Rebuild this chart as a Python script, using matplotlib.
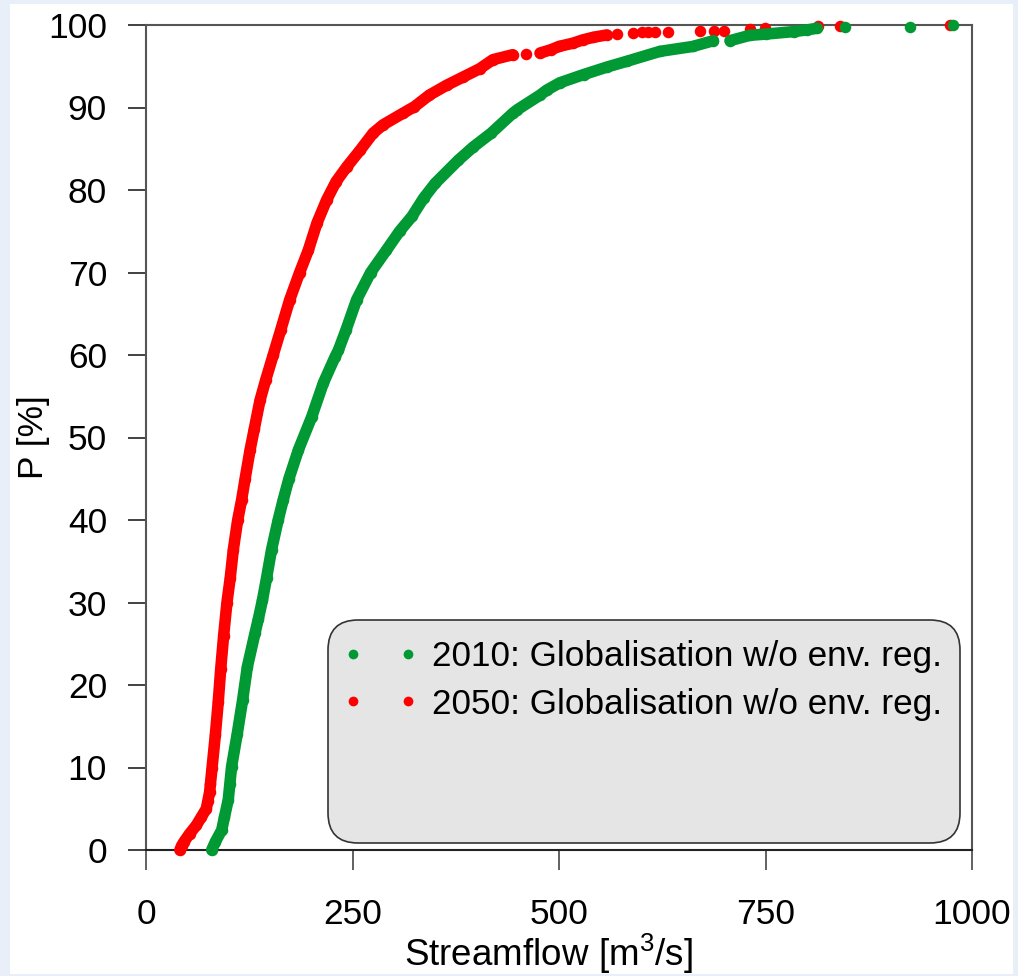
import matplotlib
matplotlib.use("Agg")
import matplotlib.pyplot as plt
from matplotlib.patches import FancyBboxPatch, Rectangle
from matplotlib.lines import Line2D
from matplotlib.transforms import IdentityTransform
import numpy as np

plt.rcParams['font.family'] = ['Liberation Sans', 'DejaVu Sans']
plt.rcParams['mathtext.fontset'] = 'custom'
plt.rcParams['mathtext.rm'] = 'Liberation Sans'
plt.rcParams['mathtext.it'] = 'Liberation Sans:italic'

# ---- data ----
# 2050 series: continuous body (percent, streamflow)
p_2050_body = [0, 0.5, 1, 2, 3, 4, 5, 6, 7, 8, 10, 14, 18, 22, 26, 30, 33, 36.4, 40, 42.4,
               45, 48.5, 51, 54.5, 57, 60, 63, 66.7, 70, 72.7, 76, 78.8, 81, 82.8, 84.8,
               86.9, 87.9, 89.3, 90.1, 91.5, 92.7, 93.7, 94.7, 95.8, 96.4]
q_2050_body = [41, 43, 46, 53, 61, 67, 73, 75, 77, 78, 80, 84, 87.5, 90.5, 94, 98, 102,
               105.7, 111, 115.7, 120, 126, 131, 138, 145, 154, 163, 174, 186, 196.5, 207,
               218.7, 230, 243, 259, 275, 287, 311, 325, 343, 364, 384, 404, 420, 444]
p_2050_mid = [96.6, 97.0, 97.4, 97.8, 98.2, 98.5, 98.8]
q_2050_mid = [477, 490, 500, 517, 529, 541, 558]
p_2050_tail = [96.5, 98.9, 99.0, 99.15, 99.15, 99.15, 99.2, 99.3, 99.3, 99.3, 99.5, 99.6,
               99.85, 99.9, 100]
q_2050_tail = [460, 570, 589, 600, 608, 616, 632, 671, 688, 700, 731, 749, 813, 840, 973]

# 2010 series
p_2010_body = [0, 1, 2.4, 4, 6.1, 8, 10.1, 14.1, 18.2, 22.2, 26.3, 28, 30.3, 33, 36.4, 40,
               42.4, 45, 48.5, 52.5, 56.6, 59.8, 60.6, 63, 66.7, 70, 72.7, 75, 76.8, 79,
               80.8, 83.6, 85.2, 86.9, 89.3, 89.7, 91.5, 92.1, 93.0, 94.0, 94.9, 95.6,
               96.8, 97.4, 98.1]
q_2010_body = [79.5, 84, 91.6, 95, 99.6, 101.5, 103.6, 110.5, 117, 122.7, 132, 136, 141, 146,
               152, 160, 166, 173, 184.5, 200.6, 214.7, 229, 233, 242, 255, 272, 291, 307,
               322, 336, 350, 378, 396, 418, 444, 449, 477, 485, 501, 530, 558, 582, 622,
               662, 687]
p_2010_mid = [98.1, 98.75, 98.9, 99.2, 99.4, 99.6]
q_2010_mid = [707, 731, 751, 784, 800, 812]
p_2010_tail = [99.7, 99.8, 100]
q_2010_tail = [846, 925, 977]

labels = ["2010: Globalisation w/o env. reg.", "2050: Globalisation w/o env. reg."]
col_2010 = "#009933"
col_2050 = "#ff0000"

xticks = [0, 250, 500, 750, 1000]
yticks = list(range(0, 101, 10))

# ---- figure ----
W, H = 1018, 976
fig = plt.figure(figsize=(W / 100, H / 100), dpi=100)
fig.patch.set_facecolor("#e9eff9")
fig.patches.append(Rectangle((10, H - 974), 1003, 970, transform=IdentityTransform(),
                             facecolor="white", edgecolor="none", zorder=-10))

ax = fig.add_axes([146 / W, 1 - 850 / H, (972 - 146) / W, (850 - 25) / H])
ax.set_facecolor("none")

ms = 8.3
lw = 8.3


def draw(psegs, qsegs, ptail, qtail, color, z):
    for pp, qq in zip(psegs, qsegs):
        ax.plot(qq, pp, color=color, lw=lw, solid_capstyle="round",
                solid_joinstyle="round", zorder=z, clip_on=False)
        ax.plot(qq, pp, "o", color=color, ms=ms, mew=0, zorder=z, clip_on=False)
    ax.plot(qtail, ptail, "o", color=color, ms=ms, mew=0, zorder=z, clip_on=False)


draw([p_2050_body, p_2050_mid], [q_2050_body, q_2050_mid], p_2050_tail, q_2050_tail,
     col_2050, 3)
draw([p_2010_body, p_2010_mid], [q_2010_body, q_2010_mid], p_2010_tail, q_2010_tail,
     col_2010, 4)

ax.set_xlim(0, 1000)
ax.set_ylim(0, 100)
ax.set_xticks(xticks)
ax.set_yticks(yticks)
ax.tick_params(axis="y", direction="out", length=13, width=1.3, color="#333333",
               labelsize=25.5, pad=15)
ax.tick_params(axis="x", direction="out", length=14.4, width=1.3, color="#555555",
               labelsize=25.5, pad=20)
for s in ax.spines.values():
    s.set_color("#555555")
    s.set_linewidth(1.5)
ax.spines["bottom"].set_color("#222222")

ax.set_xlabel("Streamflow [m$^{3}$/s]", fontsize=26.5)
ax.xaxis.set_label_coords((548 - 146) / 826, (850 - 932) / 825)
ax.set_ylabel("P [%]", fontsize=25.5)
ax.yaxis.set_label_coords((50 - 146) / 826, 0.5)

# legend box
box = FancyBboxPatch((328, H - 843), 632, 223, boxstyle="round,pad=0,rounding_size=30",
                     transform=IdentityTransform(), facecolor="#e5e5e5",
                     edgecolor="#333333", linewidth=1.2, zorder=5)
fig.patches.append(box)

handles = [Line2D([], [], ls="none", marker="o", color=col_2010, ms=7, mew=0),
           Line2D([], [], ls="none", marker="o", color=col_2050, ms=7, mew=0)]
leg = fig.legend(handles, labels, loc="upper left",
                 bbox_to_anchor=(342 / W, 1 - 640 / H), bbox_transform=fig.transFigure,
                 frameon=False, numpoints=2, fontsize=25.3, borderpad=0,
                 handlelength=2.17, handletextpad=0.4, labelspacing=0.42,
                 borderaxespad=0)
leg.set_zorder(6)

fig.savefig("out.png", dpi=100, facecolor=fig.get_facecolor())
